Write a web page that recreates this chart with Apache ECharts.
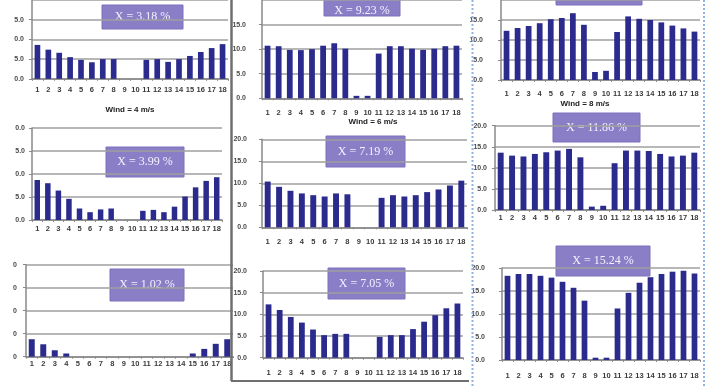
<!DOCTYPE html>
<html>
<head>
<meta charset="utf-8">
<script src="https://cdn.jsdelivr.net/npm/echarts@6/dist/echarts.min.js"></script>
<style>
html,body{margin:0;padding:0;background:#fff;}
#c{width:713px;height:387px;filter:blur(0.4px);}
</style>
</head>
<body>
<div id="c"></div>
<script>
// ---- data ----
const categories = ['1','2','3','4','5','6','7','8','9','10','11','12','13','14','15','16','17','18'];
const yTicks = [0, 5, 10, 15, 20];
const panelLabels = ['X = 3.18 %', 'X = 9.23 %', '', 'X = 3.99 %', 'X = 7.19 %', 'X = 11.86 %', 'X = 1.02 %', 'X = 7.05 %', 'X = 15.24 %'];
const windLabels = ['Wind = 4 m/s', 'Wind = 6 m/s', 'Wind = 8 m/s'];
const p1 = [8.6, 7.4, 6.6, 5.5, 4.8, 4.2, 5.0, 5.0, null, null, 4.8, 5.0, 4.3, 5.0, 5.8, 6.8, 7.8, 8.8];
const p2 = [10.7, 10.6, 9.85, 9.8, 10.0, 10.7, 11.2, 10.1, 0.5, 0.5, 9.1, 10.6, 10.6, 10.1, 9.85, 10.1, 10.6, 10.7];
const p3 = [12.3, 13.0, 13.5, 14.2, 15.2, 15.5, 16.7, 13.8, 2.0, 2.3, 12.0, 15.9, 15.3, 15.0, 14.4, 13.6, 12.9, 12.1];
const p4 = [8.7, 8.0, 6.4, 4.6, 2.5, 1.7, 2.3, 2.5, null, null, 2.0, 2.2, 1.7, 2.9, 5.1, 7.1, 8.5, 9.3];
const p5 = [10.4, 9.2, 8.3, 7.7, 7.3, 7.0, 7.7, 7.5, null, null, 6.7, 7.3, 7.0, 7.3, 8.0, 8.6, 9.5, 10.6];
const p6 = [13.6, 12.9, 12.7, 13.3, 13.7, 14.1, 14.5, 12.5, 0.8, 1.0, 11.1, 14.1, 14.1, 14.0, 13.3, 12.7, 12.9, 13.6];
const p7 = [3.8, 2.7, 1.4, 0.7, 0, 0, 0, 0, 0, 0, 0, 0, 0, 0, 0.7, 1.7, 2.8, 3.8];
const p8 = [12.3, 11.0, 9.4, 8.1, 6.5, 5.2, 5.5, 5.5, null, null, 4.8, 5.2, 5.2, 6.6, 8.3, 9.8, 11.4, 12.5];
const p9 = [18.3, 18.7, 18.7, 18.3, 17.9, 17.0, 15.7, 12.9, 0.5, 0.5, 11.2, 14.6, 16.8, 18.0, 18.7, 19.2, 19.4, 18.8];
const panelData = [p1, p2, p3, p4, p5, p6, p7, p8, p9];

// ---- layout / style ----
const grids = [
  {left: 32,  top: -4,    width: 196, height: 82.8},
  {left: 262, top: -7.3,  width: 200, height: 105.6},
  {left: 501, top: -8,    width: 199, height: 88},
  {left: 32,  top: 128,   width: 190, height: 92},
  {left: 262, top: 139.3, width: 205, height: 88},
  {left: 495, top: 125.7, width: 205, height: 84.3},
  {left: 26,  top: 264.7, width: 207, height: 92},
  {left: 263, top: 271,   width: 200, height: 86.7},
  {left: 502, top: 268,   width: 198, height: 92}
];
const xMargins = [7, 11, 10, 5, 11, 4, 3, 11, 12];
const yMargins = [8, 16, 18, 7, 15, 8, 9, 16, 17];
const ySlice = [3, 0, 0, 3, 0, 0, 1, 0, 0];
const showTop = [false, false, false, true, true, true, true, true, true];
const boxes = [
  [102, 5, 81, 24], [324, -8, 76, 24], [556, -25, 86, 30],
  [106, 147, 78, 30], [326, 136, 79, 31], [553, 113, 87, 29],
  [110, 269, 74, 32], [328, 268, 77, 31], [556, 246, 94, 30]
];
const boxTextDy = [0, 7, 0, 0, 0, 0, 0, 0, 0];
const windPos = [[130, 110], [373, 122], [585, 104]];

const barColor = '#2b2a8d';
const gridColor = '#9f9f9f';
const axisColor = '#888888';
const font = 'Liberation Sans, Arial, sans-serif';

const option = {
  animation: false,
  backgroundColor: '#fff',
  grid: grids.map(g => Object.assign({containLabel: false}, g)),
  xAxis: grids.map((g, i) => ({
    gridIndex: i, type: 'category', data: categories,
    axisLine: {show: true, lineStyle: {color: axisColor, width: 1.5}},
    axisTick: {show: true, length: 2, lineStyle: {color: axisColor}},
    axisLabel: {interval: 0, fontSize: 7.5, fontWeight: 'bold', color: '#3a3a3a', margin: xMargins[i], fontFamily: font}
  })),
  yAxis: grids.map((g, i) => ({
    gridIndex: i, type: 'value', min: yTicks[0], max: yTicks[yTicks.length - 1], interval: yTicks[1] - yTicks[0],
    axisLine: {show: true, lineStyle: {color: axisColor, width: 1.5}},
    axisTick: {show: true, length: 3, lineStyle: {color: axisColor}},
    splitLine: {show: true, lineStyle: {color: gridColor, width: 1.5}},
    axisLabel: {
      showMaxLabel: showTop[i],
      fontSize: 7, fontWeight: 'bold', color: '#4a4a4a', margin: yMargins[i], fontFamily: font,
      formatter: v => { const s = v.toFixed(1); return ySlice[i] ? s.slice(-ySlice[i]) : s; }
    }
  })),
  series: panelData.map((d, i) => ({
    type: 'bar', xAxisIndex: i, yAxisIndex: i, data: d,
    barWidth: '52%', itemStyle: {color: barColor}
  })),
  graphic: [
    // panel separators
    {type: 'line', z: 100, shape: {x1: 231.5, y1: 0, x2: 231.5, y2: 381}, style: {stroke: '#6f6f6f', lineWidth: 2.5}},
    {type: 'line', z: 100, shape: {x1: 231, y1: 381, x2: 469, y2: 381}, style: {stroke: '#6f6f6f', lineWidth: 2}},
    {type: 'rect', z: 99, shape: {x: 233, y: 358, width: 4, height: 14}, style: {fill: '#fff'}},
    {type: 'line', z: 100, shape: {x1: 472.5, y1: 0, x2: 472.5, y2: 387}, style: {stroke: '#8fb4e0', lineWidth: 2, lineDash: [2, 2]}},
    {type: 'line', z: 100, shape: {x1: 704, y1: 0, x2: 704, y2: 387}, style: {stroke: '#8fb4e0', lineWidth: 2, lineDash: [2, 2]}}
  ].concat(boxes.map((b, i) => ({
    type: 'group', z: 50,
    children: [
      {type: 'rect', shape: {x: b[0], y: b[1], width: b[2], height: b[3]}, style: {fill: '#8a7ec6', stroke: '#7d70bd', lineWidth: 1}},
      {type: 'text', x: b[0] + b[2] / 2, y: b[1] + b[3] / 2 + boxTextDy[i],
       style: {text: panelLabels[i], fill: '#f4f2ff', font: '12px "Liberation Serif", "Times New Roman", serif', align: 'center', verticalAlign: 'middle'}}
    ]
  }))).concat(windPos.map((p, i) => ({
    type: 'text', z: 50, x: p[0], y: p[1],
    style: {text: windLabels[i], fill: '#222', font: 'bold 8px "Liberation Sans", Arial, sans-serif', align: 'center', verticalAlign: 'middle'}
  })))
};

const chart = echarts.init(document.getElementById('c'), null, {renderer: 'canvas'});
chart.setOption(option);
</script>
</body>
</html>
